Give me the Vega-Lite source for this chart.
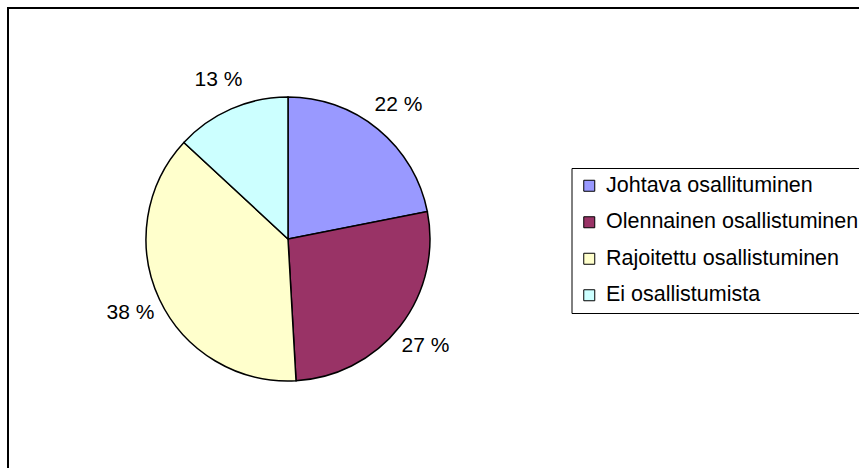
{
  "$schema": "https://vega.github.io/schema/vega-lite/v6.json",
  "autosize": "none",
  "width": 870,
  "height": 480,
  "padding": {"left": 8, "top": 8, "right": 0, "bottom": 0},
  "background": "white",
  "view": {"stroke": "black", "strokeWidth": 2},
  "config": {
    "font": "Liberation Sans"
  },
  "data": {
    "values": [
      {"idx": 1, "category": "Johtava osallituminen", "share": 21.9, "label": "22 %"},
      {"idx": 2, "category": "Olennainen osallistuminen", "share": 27.2, "label": "27 %"},
      {"idx": 3, "category": "Rajoitettu osallistuminen", "share": 37.8, "label": "38 %"},
      {"idx": 4, "category": "Ei osallistumista", "share": 13.1, "label": "13 %"}
    ]
  },
  "encoding": {
    "theta": {"field": "share", "type": "quantitative", "stack": true},
    "order": {"field": "idx", "type": "quantitative"}
  },
  "layer": [
    {
      "mark": {"type": "arc", "outerRadius": 142, "x": 280, "y": 231, "stroke": "black", "strokeWidth": 1.5},
      "encoding": {
        "color": {
          "field": "category",
          "type": "nominal",
          "sort": ["Johtava osallituminen", "Olennainen osallistuminen", "Rajoitettu osallistuminen", "Ei osallistumista"],
          "scale": {
            "domain": ["Johtava osallituminen", "Olennainen osallistuminen", "Rajoitettu osallistuminen", "Ei osallistumista"],
            "range": ["#9999FF", "#993366", "#FFFFCC", "#CCFFFF"]
          },
          "legend": {
            "title": null,
            "orient": "none",
            "legendX": 563.5,
            "legendY": 160,
            "strokeColor": "black",
            "padding": 7,
            "rowPadding": 13.5,
            "symbolType": "square",
            "symbolSize": 121,
            "symbolStrokeColor": "black",
            "symbolStrokeWidth": 1,
            "symbolOpacity": 1,
            "labelFont": "Liberation Sans",
            "labelFontSize": 21.5,
            "labelColor": "black",
            "labelOffset": 6,
            "labelLimit": 500
          }
        }
      }
    },
    {
      "mark": {"type": "text", "radius": 174, "x": 280, "y": 231, "fontSize": 21, "font": "Liberation Sans", "color": "black", "align": "center", "baseline": "middle"},
      "encoding": {
        "text": {"field": "label", "type": "nominal"}
      }
    }
  ]
}
